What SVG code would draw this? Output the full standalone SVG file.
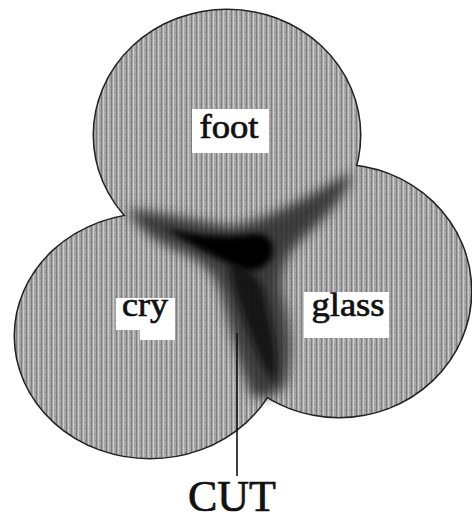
<svg xmlns="http://www.w3.org/2000/svg" width="472" height="523" viewBox="0 0 472 523">
  <defs>
    <pattern id="tex" width="5" height="6" patternUnits="userSpaceOnUse">
      <rect width="5" height="6" fill="#a6a6a6"/>
      <rect x="1" width="1" height="6" fill="#7e7e7e"/>
      <rect x="3" width="1" height="6" fill="#cacaca"/>
      <rect x="0" y="2" width="1" height="1" fill="#8e8e8e"/>
      <rect x="4" y="4" width="1" height="1" fill="#b8b8b8"/>
    </pattern>
    <filter id="soft" x="-20%" y="-20%" width="140%" height="140%">
      <feGaussianBlur stdDeviation="6"/>
    </filter>
    <filter id="soft2" x="-20%" y="-20%" width="140%" height="140%">
      <feGaussianBlur stdDeviation="3"/>
    </filter>
  </defs>
  <style>
    .edge { fill: none; stroke: #222; stroke-width: 3; }
    .fillc { fill: url(#tex); stroke: none; }
    .box { fill: #ffffff; }
    .lbl { font-family: "Liberation Serif", "Times New Roman", serif; fill: #111; stroke: #111; stroke-width: 0.7; }
    .cut { stroke: #111; stroke-width: 1.6; fill: none; }
  </style>

  <!-- union outline -->
  <g id="outlines">
    <ellipse class="edge" cx="227" cy="135" rx="133" ry="125"/>
    <ellipse class="edge" cx="150" cy="336" rx="135" ry="122"/>
    <ellipse class="edge" cx="339" cy="291" rx="132" ry="126"/>
  </g>

  <g id="node-foot">
    <ellipse class="fillc" cx="227" cy="135" rx="133" ry="125"/>
  </g>
  <g id="node-cry">
    <ellipse class="fillc" cx="150" cy="336" rx="135" ry="122"/>
  </g>
  <g id="node-glass">
    <ellipse class="fillc" cx="339" cy="291" rx="132" ry="126"/>
  </g>

  <!-- dark overlap shading -->
  <g id="overlap">
    <path d="M128,210 C165,212 200,222 232,226 C268,220 305,198 352,172 C350,190 330,214 305,236 C288,252 280,266 282,292 C290,322 294,352 286,384 C278,396 266,400 252,396 C242,372 232,336 224,302 C218,278 210,266 185,254 C160,244 140,232 128,210 Z" fill="#2a2a2a" filter="url(#soft)" opacity="0.85"/>
    <path d="M165,228 C195,236 225,238 252,234 C266,232 276,240 272,256 C266,270 250,274 238,268 C222,260 195,248 165,228 Z" fill="#000" filter="url(#soft2)"/>
    <path d="M230,262 C246,266 262,276 266,300 C272,330 280,355 274,382 C264,372 252,342 242,312 C236,294 230,278 230,262 Z" fill="#111" filter="url(#soft2)" opacity="0.8"/>
  </g>

  <g id="connectors">
    <line class="cut" x1="237" y1="333" x2="237" y2="476"/>
  </g>

  <g id="label-foot">
    <rect class="box" x="192" y="109" width="77" height="44"/>
    <text class="lbl" x="229" y="138" font-size="34" text-anchor="middle" textLength="59" lengthAdjust="spacingAndGlyphs">foot</text>
  </g>
  <g id="label-cry">
    <rect class="box" x="116" y="298" width="59" height="32"/>
    <rect class="box" x="140" y="320" width="35" height="20"/>
    <text class="lbl" x="145" y="316" font-size="34" text-anchor="middle" textLength="46" lengthAdjust="spacingAndGlyphs">cry</text>
  </g>
  <g id="label-glass">
    <rect class="box" x="304" y="292" width="85" height="46"/>
    <text class="lbl" x="348" y="316" font-size="34" text-anchor="middle" textLength="73" lengthAdjust="spacingAndGlyphs">glass</text>
  </g>
  <g id="label-cut">
    <text class="lbl" x="232" y="511" font-size="44" stroke-width="0.5" text-anchor="middle">CUT</text>
  </g>
</svg>
